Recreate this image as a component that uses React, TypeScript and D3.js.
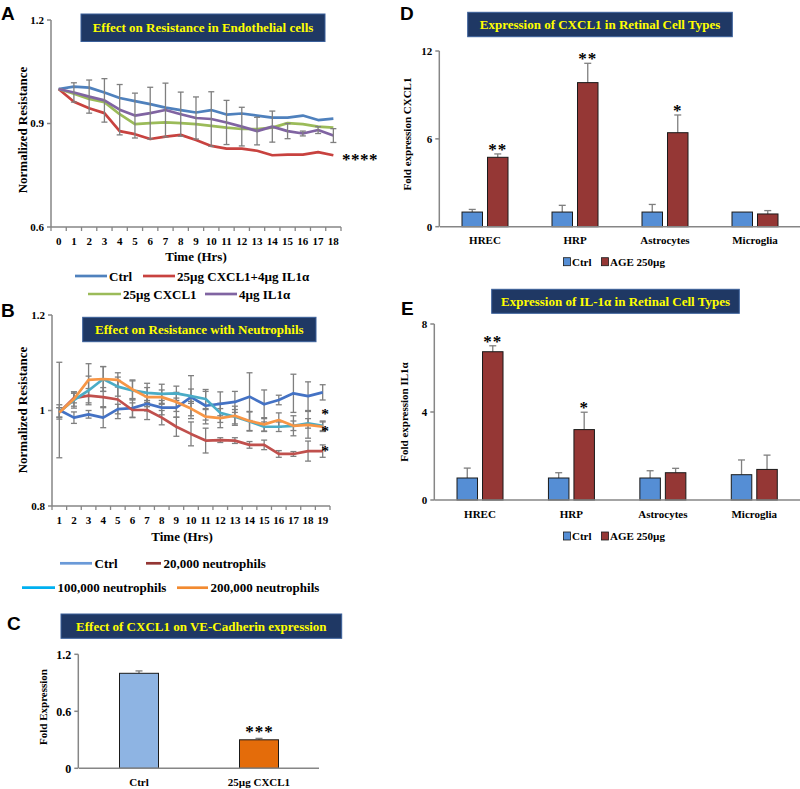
import React from "react";
import * as d3 from "d3";

const SERIF = "'Liberation Serif', 'Times New Roman', serif";
const SANS = "'Liberation Sans', Arial, sans-serif";
const AX = "#868686";
const ERR = "#7F7F7F";

// ---------- Panel A ----------
const hoursA = ["0", "1", "2", "3", "4", "5", "6", "7", "8", "9", "10", "11", "12", "13", "14", "15", "16", "17", "18"];
const ctrlA = [1.0, 1.007, 1.004, 0.99, 0.974, 0.965, 0.956, 0.946, 0.939, 0.932, 0.939, 0.926, 0.929, 0.923, 0.917, 0.917, 0.923, 0.91, 0.914];
const comboA = [1.0, 0.963, 0.944, 0.93, 0.878, 0.869, 0.855, 0.862, 0.867, 0.852, 0.835, 0.827, 0.827, 0.821, 0.808, 0.81, 0.81, 0.817, 0.808];
const cxcl1A = [1.0, 0.986, 0.971, 0.962, 0.927, 0.898, 0.901, 0.903, 0.901, 0.898, 0.893, 0.888, 0.884, 0.884, 0.888, 0.901, 0.898, 0.891, 0.888];
const il1aA = [1.0, 0.99, 0.978, 0.967, 0.94, 0.923, 0.93, 0.939, 0.927, 0.916, 0.913, 0.903, 0.891, 0.878, 0.891, 0.878, 0.871, 0.881, 0.865];
const il1aErrA = [0, 0.028, 0.048, 0.063, 0.073, 0.065, 0.075, 0.078, 0.064, 0.061, 0.079, 0.064, 0.056, 0.04, 0.045, 0.022, 0.007, 0.01, 0.02];
const yTicksA = [0.6, 0.9, 1.2];
const yTickLabelsA = ["0.6", "0.9", "1.2"];
const legendA = ["Ctrl", "25µg CXCL1+4µg IL1α", "25µg CXCL1", "4µg IL1α"];

// ---------- Panel B ----------
const hoursB = ["1", "2", "3", "4", "5", "6", "7", "8", "9", "10", "11", "12", "13", "14", "15", "16", "17", "18", "19"];
const ctrlB = [1.001, 0.985, 0.992, 0.985, 1.003, 1.005, 1.014, 1.006, 1.006, 1.028, 1.01, 1.014, 1.018, 1.029, 1.013, 1.022, 1.036, 1.03, 1.038];
const n20B = [0.996, 1.026, 1.031, 1.028, 1.023, 1.001, 1.001, 0.985, 0.966, 0.951, 0.937, 0.938, 0.937, 0.928, 0.928, 0.909, 0.909, 0.915, 0.915];
const n100B = [0.997, 1.022, 1.042, 1.066, 1.05, 1.042, 1.037, 1.035, 1.036, 1.03, 1.024, 0.995, 0.987, 0.977, 0.966, 0.966, 0.968, 0.973, 0.968];
const n200B = [0.996, 1.024, 1.064, 1.066, 1.064, 1.044, 1.028, 1.028, 1.018, 1.004, 0.987, 0.984, 0.989, 0.978, 0.971, 0.98, 0.968, 0.97, 0.966];
const ctrlErrB = [0.1, 0.012, 0.008, 0.021, 0.01, 0.02, 0.015, 0.015, 0.02, 0.045, 0.03, 0.025, 0.022, 0.05, 0.03, 0.01, 0.04, 0.03, 0.016];
const n20ErrB = [0.01, 0.01, 0.015, 0.02, 0.04, 0.015, 0.02, 0.015, 0.02, 0.025, 0.026, 0.005, 0.006, 0.007, 0.01, 0.007, 0.005, 0.021, 0.013];
const n100ErrB = [0.015, 0.017, 0.03, 0.026, 0.02, 0.02, 0.02, 0.02, 0.015, 0.015, 0.02, 0.02, 0.015, 0.02, 0.01, 0.01, 0.01, 0.01, 0.01];
const n200ErrB = [0.01, 0.015, 0.034, 0.026, 0.015, 0.02, 0.02, 0.015, 0.02, 0.015, 0.015, 0.02, 0.02, 0.02, 0.014, 0.015, 0.021, 0.028, 0.01];
const yTicksB = [0.8, 1.0, 1.2];
const yTickLabelsB = ["0.8", "1", "1.2"];
const legendB = ["Ctrl", "20,000 neutrophils", "100,000 neutrophils", "200,000 neutrophils"];
const sigB = ["*", "*", "*"];

// ---------- Panel C ----------
const catsC = ["Ctrl", "25µg CXCL1"];
const valsC = [1.0, 0.3];
const errC = [0.025, 0.015];
const yTicksC = [0, 0.6, 1.2];
const yTickLabelsC = ["0", "0.6", "1.2"];

// ---------- Panel D ----------
const cellTypes = ["HREC", "HRP", "Astrocytes", "Microglia"];
const ctrlD = [1.0, 1.0, 1.0, 1.0];
const ctrlErrD = [0.18, 0.46, 0.52, 0];
const ageD = [4.74, 9.84, 6.42, 0.87];
const ageErrD = [0.23, 1.32, 1.21, 0.23];
const sigD = ["**", "**", "*", ""];
const yTicksD = [0, 6, 12];

// ---------- Panel E ----------
const ctrlE = [1.0, 1.0, 1.0, 1.15];
const ctrlErrE = [0.45, 0.24, 0.33, 0.67];
const ageE = [6.74, 3.2, 1.24, 1.39];
const ageErrE = [0.27, 0.79, 0.2, 0.65];
const sigE = ["**", "*", "", ""];
const yTicksE = [0, 4, 8];
const barLegend = ["Ctrl", "AGE 250µg"];

const CTRL_BAR = "#558ED5";
const AGE_BAR = "#953735";

function TitleBox({ x, y, w, h, text }: { x: number; y: number; w: number; h: number; text: string }) {
  return (
    <g>
      <rect x={x} y={y} width={w} height={h} fill="#1F3864" stroke="#3A5F9A" strokeWidth={1} />
      <text x={x + w / 2} y={y + h / 2 + 4.5} textAnchor="middle" fill="#FFFF00" fontFamily={SERIF} fontWeight="bold" fontSize={13}>
        {text}
      </text>
    </g>
  );
}

function PanelLetter({ x, y, t }: { x: number; y: number; t: string }) {
  return (
    <text x={x} y={y} fontFamily={SANS} fontWeight="bold" fontSize={19} fill="#000">
      {t}
    </text>
  );
}

function LeftAxis({ scale, x, ticks, labels, fs }: { scale: d3.ScaleLinear<number, number>; x: number; ticks: number[]; labels: string[]; fs: number }) {
  const [r0, r1] = scale.range();
  return (
    <g>
      <line x1={x} x2={x} y1={r0} y2={r1} stroke={AX} strokeWidth={1.5} />
      {ticks.map((t, i) => (
        <g key={i}>
          <line x1={x - 4} x2={x} y1={scale(t)} y2={scale(t)} stroke={AX} strokeWidth={1.5} />
          <text x={x - 7} y={scale(t) + fs * 0.35} textAnchor="end" fontFamily={SERIF} fontWeight="bold" fontSize={fs}>
            {labels[i]}
          </text>
        </g>
      ))}
    </g>
  );
}

function RotLabel({ x, y, text, fs }: { x: number; y: number; text: string; fs: number }) {
  return (
    <text transform={`translate(${x},${y}) rotate(-90)`} textAnchor="middle" fontFamily={SERIF} fontWeight="bold" fontSize={fs}>
      {text}
    </text>
  );
}

function LineErr({ cx, y, v, e }: { cx: number; y: d3.ScaleLinear<number, number>; v: number; e: number }) {
  if (!e) return null;
  const t = y(v + e), b = y(v - e);
  return (
    <g stroke={ERR} strokeWidth={1.3}>
      <line x1={cx} x2={cx} y1={t} y2={b} />
      <line x1={cx - 3} x2={cx + 3} y1={t} y2={t} />
      <line x1={cx - 3} x2={cx + 3} y1={b} y2={b} />
    </g>
  );
}

function CatBottom({ x, y0, cats, ticks, labelY, fs }: { x: d3.ScaleBand<string>; y0: number; cats: string[]; ticks: boolean; labelY: number; fs: number }) {
  const [r0, r1] = x.range();
  return (
    <g>
      <line x1={r0} x2={r1} y1={y0} y2={y0} stroke={AX} strokeWidth={1.5} />
      {ticks &&
        cats.concat([""]).map((c, i) => {
          const xx = r0 + i * x.step();
          return <line key={"t" + i} x1={xx} x2={xx} y1={y0} y2={y0 + 4} stroke={AX} strokeWidth={1.3} />;
        })}
      {cats.map((c) => (
        <text key={c} x={x(c)! + x.bandwidth() / 2} y={labelY} textAnchor="middle" fontFamily={SERIF} fontWeight="bold" fontSize={fs}>
          {c}
        </text>
      ))}
    </g>
  );
}

function PanelA() {
  const x = d3.scaleBand<string>().domain(hoursA).range([51, 341]);
  const y = d3.scaleLinear().domain([0.6, 1.2]).range([227, 20]);
  const cx = (i: number) => x(hoursA[i])! + x.bandwidth() / 2;
  const line = d3.line<number>().x((_, i) => cx(i)).y((d) => y(d));
  const colors = ["#4F81BD", "#C8423F", "#9BBB59", "#8064A2"];
  const data = [ctrlA, comboA, cxcl1A, il1aA];
  return (
    <g>
      <PanelLetter x={1} y={20} t="A" />
      <LeftAxis scale={y} x={51} ticks={yTicksA} labels={yTickLabelsA} fs={11} />
      <CatBottom x={x} y0={227} cats={hoursA} ticks={true} labelY={245} fs={11} />
      <RotLabel x={27} y={130} text="Normalized Resistance" fs={13} />
      <text x={196} y={261} textAnchor="middle" fontFamily={SERIF} fontWeight="bold" fontSize={13}>Time (Hrs)</text>
      {data.map((d, k) => (
        <path key={k} d={line(d)!} fill="none" stroke={colors[k]} strokeWidth={2.7} strokeLinejoin="round" />
      ))}
      {il1aA.map((v, i) => (
        <LineErr key={i} cx={cx(i)} y={y} v={v} e={il1aErrA[i]} />
      ))}
      <TitleBox x={81} y={14} w={244} h={27.5} text="Effect on Resistance in Endothelial cells" />
      <text x={342} y={165} fontFamily={SERIF} fontWeight="bold" fontSize={17} letterSpacing={0.5}>****</text>
      {[
        [75, 107, 276, 0],
        [143, 175, 276, 1],
        [88, 121, 294, 2],
        [205, 237, 294, 3],
      ].map(([a, b, yy, k]) => (
        <g key={k}>
          <line x1={a} x2={b} y1={yy} y2={yy} stroke={colors[k]} strokeWidth={2.7} />
          <text x={b + 2} y={yy + 4.5} fontFamily={SERIF} fontWeight="bold" fontSize={13}>{legendA[k]}</text>
        </g>
      ))}
    </g>
  );
}

function PanelB() {
  const x = d3.scaleBand<string>().domain(hoursB).range([52, 330]);
  const y = d3.scaleLinear().domain([0.8, 1.2]).range([506, 315]);
  const cx = (i: number) => x(hoursB[i])! + x.bandwidth() / 2;
  const line = d3.line<number>().x((_, i) => cx(i)).y((d) => y(d));
  const colors = ["#4472C4", "#C0504D", "#4BACC6", "#F79646"];
  const data = [ctrlB, n20B, n100B, n200B];
  const errs = [ctrlErrB, n20ErrB, n100ErrB, n200ErrB];
  const sigY = [411.5, 428.5, 448];
  return (
    <g>
      <PanelLetter x={1} y={317} t="B" />
      <LeftAxis scale={y} x={52} ticks={yTicksB} labels={yTickLabelsB} fs={11} />
      <CatBottom x={x} y0={506} cats={hoursB} ticks={true} labelY={524} fs={11} />
      <RotLabel x={27} y={410} text="Normalized Resistance" fs={13} />
      <text x={182} y={540.5} textAnchor="middle" fontFamily={SERIF} fontWeight="bold" fontSize={13}>Time (Hrs)</text>
      {data.map((d, k) => (
        <g key={k}>
          {d.map((v, i) => (
            <LineErr key={i} cx={cx(i)} y={y} v={v} e={errs[k][i]} />
          ))}
        </g>
      ))}
      {data.map((d, k) => (
        <path key={k} d={line(d)!} fill="none" stroke={colors[k]} strokeWidth={2.7} strokeLinejoin="round" />
      ))}
      <TitleBox x={82.7} y={317.3} w={233.3} h={24.4} text="Effect on Resistance with Neutrophils" />
      {sigB.map((s, i) => (
        <text key={i} x={325} y={sigY[i] + 7.5} textAnchor="middle" fontFamily={SERIF} fontWeight="bold" fontSize={15.5}>{s}</text>
      ))}
      {[
        [60, 92, 563.3, 0, "#6A9AD8"],
        [146, 161, 563.3, 1, "#943634"],
        [22, 55, 587.7, 2, "#00B0F0"],
        [177, 208, 587.7, 3, "#F28A30"],
      ].map(([a, b, yy, k, c]) => (
        <g key={k as number}>
          <line x1={a as number} x2={b as number} y1={yy as number} y2={yy as number} stroke={c as string} strokeWidth={2.7} />
          <text x={(b as number) + 2.5} y={(yy as number) + 4.5} fontFamily={SERIF} fontWeight="bold" fontSize={13}>{legendB[k as number]}</text>
        </g>
      ))}
    </g>
  );
}

function BarErrUp({ cx, top, yTop }: { cx: number; top: number; yTop: number }) {
  if (Math.abs(top - yTop) < 0.5) return null;
  return (
    <g stroke={ERR} strokeWidth={1.3}>
      <line x1={cx} x2={cx} y1={top} y2={yTop} />
      <line x1={cx - 3.5} x2={cx + 3.5} y1={yTop} y2={yTop} />
    </g>
  );
}

function PanelC() {
  const x = d3.scaleBand<string>().domain(catsC).range([79, 319]);
  const y = d3.scaleLinear().domain([0, 1.2]).range([768.3, 654.3]);
  const fills = ["#8EB4E3", "#E46C0A"];
  const bw = 39;
  return (
    <g>
      <PanelLetter x={7} y={630} t="C" />
      <TitleBox x={61} y={614} w={280.7} h={24.3} text="Effect of CXCL1 on VE-Cadherin expression" />
      {catsC.map((c, i) => {
        const cx = x(c)! + x.bandwidth() / 2;
        return (
          <g key={c}>
            <BarErrUp cx={cx} top={y(valsC[i])} yTop={y(valsC[i] + errC[i])} />
            <rect x={cx - bw / 2} y={y(valsC[i])} width={bw} height={y(0) - y(valsC[i])} fill={fills[i]} stroke="#1a1a1a" strokeWidth={1} />
          </g>
        );
      })}
      <LeftAxis scale={y} x={78.3} ticks={yTicksC} labels={yTickLabelsC} fs={12} />
      <CatBottom x={x} y0={768.3} cats={catsC} ticks={false} labelY={785.5} fs={11} />
      <RotLabel x={47} y={707} text="Fold Expression" fs={11} />
      <text x={259.5} y={736.5} textAnchor="middle" fontFamily={SERIF} fontWeight="bold" fontSize={17} letterSpacing={1}>***</text>
    </g>
  );
}

function GroupedBars({
  x, y, ctrl, ctrlErr, age, ageErr, sig,
}: {
  x: d3.ScaleBand<string>; y: d3.ScaleLinear<number, number>; ctrl: number[]; ctrlErr: number[]; age: number[]; ageErr: number[]; sig: string[];
}) {
  return (
    <g>
      {cellTypes.map((c, i) => {
        const cx = x(c)! + x.bandwidth() / 2;
        const c1 = cx - 12.75, c2 = cx + 12.75;
        const bw = 20.5;
        return (
          <g key={c}>
            <BarErrUp cx={c1} top={y(ctrl[i])} yTop={y(ctrl[i] + ctrlErr[i])} />
            <BarErrUp cx={c2} top={y(age[i])} yTop={y(age[i] + ageErr[i])} />
            <rect x={c1 - bw / 2} y={y(ctrl[i])} width={bw} height={y(0) - y(ctrl[i])} fill={CTRL_BAR} stroke="#1a1a1a" strokeWidth={1} />
            <rect x={c2 - bw / 2} y={y(age[i])} width={bw} height={y(0) - y(age[i])} fill={AGE_BAR} stroke="#1a1a1a" strokeWidth={1} />
            {sig[i] && (
              <text x={c2} y={y(age[i] + ageErr[i]) + 1} textAnchor="middle" fontFamily={SERIF} fontWeight="bold" fontSize={17} letterSpacing={1}>
                {sig[i]}
              </text>
            )}
          </g>
        );
      })}
    </g>
  );
}

function BarLegend({ y0 }: { y0: number }) {
  return (
    <g fontFamily={SERIF} fontWeight="bold" fontSize={11}>
      <rect x={563.5} y={y0 - 4} width={7} height={8} fill={CTRL_BAR} stroke="#1a1a1a" strokeWidth={0.8} />
      <text x={572} y={y0 + 4}>{barLegend[0]}</text>
      <rect x={601.5} y={y0 - 4} width={7} height={8} fill={AGE_BAR} stroke="#1a1a1a" strokeWidth={0.8} />
      <text x={610} y={y0 + 4}>{barLegend[1]}</text>
    </g>
  );
}

function PanelD() {
  const x = d3.scaleBand<string>().domain(cellTypes).range([440, 800]);
  const y = d3.scaleLinear().domain([0, 12]).range([226.7, 51]);
  return (
    <g>
      <PanelLetter x={400} y={20} t="D" />
      <TitleBox x={467.7} y={12.3} w={264.6} h={24.4} text="Expression of CXCL1 in Retinal Cell Types" />
      <GroupedBars x={x} y={y} ctrl={ctrlD} ctrlErr={ctrlErrD} age={ageD} ageErr={ageErrD} sig={sigD} />
      <LeftAxis scale={y} x={439.3} ticks={yTicksD} labels={yTicksD.map(String)} fs={11} />
      <CatBottom x={x} y0={226.7} cats={cellTypes} ticks={false} labelY={244} fs={11} />
      <RotLabel x={410.5} y={134} text="Fold expression CXCL1" fs={11} />
      <BarLegend y0={261.7} />
    </g>
  );
}

function PanelE() {
  const x = d3.scaleBand<string>().domain(cellTypes).range([434.3, 800]);
  const y = d3.scaleLinear().domain([0, 8]).range([500, 324]);
  return (
    <g>
      <PanelLetter x={401} y={315} t="E" />
      <TitleBox x={491.7} y={289.3} w={247.6} h={24} text="Expression of IL-1α in Retinal Cell Types" />
      <GroupedBars x={x} y={y} ctrl={ctrlE} ctrlErr={ctrlErrE} age={ageE} ageErr={ageErrE} sig={sigE} />
      <LeftAxis scale={y} x={434.3} ticks={yTicksE} labels={yTicksE.map(String)} fs={11} />
      <CatBottom x={x} y0={500} cats={cellTypes} ticks={false} labelY={518} fs={11} />
      <RotLabel x={408} y={412} text="Fold expression IL1α" fs={11} />
      <BarLegend y0={536} />
    </g>
  );
}

export default function App() {
  return (
    <svg width={800} height={789} style={{ position: "absolute", left: 0, top: 0 }} xmlns="http://www.w3.org/2000/svg">
      <rect width={800} height={789} fill="#fff" />
      <PanelA />
      <PanelB />
      <PanelC />
      <PanelD />
      <PanelE />
    </svg>
  );
}
